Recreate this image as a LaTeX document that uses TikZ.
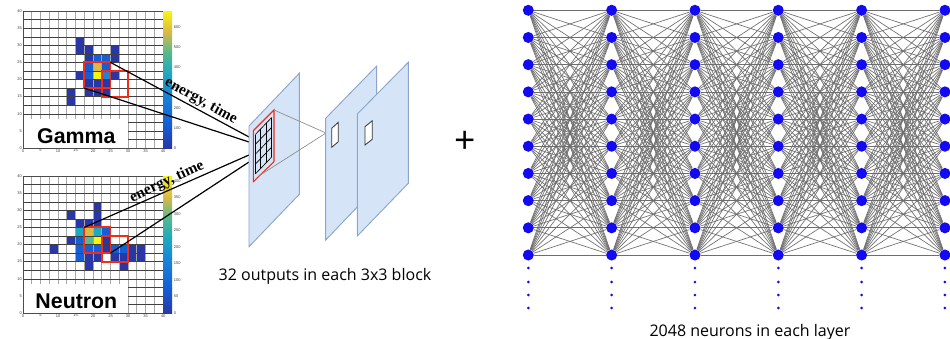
\documentclass[tikz,border=0pt]{standalone}
\usepackage{fontspec}
\setmainfont{Open Sans}
\newfontfamily\plotfont{Liberation Sans}
\newfontfamily\labelfont{Liberation Serif}
\usepackage{tikz}
\usetikzlibrary{calc}
\definecolor{birdD}{RGB}{40,55,165}
\definecolor{birdB}{RGB}{20,95,215}
\definecolor{birdM}{RGB}{25,135,215}
\definecolor{birdT}{RGB}{30,170,190}
\definecolor{birdG}{RGB}{90,185,140}
\definecolor{birdO}{RGB}{220,185,70}
\definecolor{birdY}{RGB}{250,245,15}
\definecolor{boxRed}{RGB}{240,45,25}
\definecolor{sheetBlue}{RGB}{214,228,248}
\definecolor{sheetEdge}{RGB}{140,165,205}
\definecolor{neuronBlue}{RGB}{20,10,240}
\definecolor{linkGray}{RGB}{110,110,110}

\begin{document}
\begin{tikzpicture}[x=0.75pt,y=-0.75pt,
  neuron/.style={circle,fill=neuronBlue,inner sep=0pt,minimum size=8.3pt},
  link/.style={draw=linkGray,line width=0.5pt},
  feed/.style={draw=black,line width=0.9pt},
  sheet/.style={draw=sheetEdge,fill=sheetBlue,line width=0.7pt},
  redbox/.style={draw=boxRed,line width=1.4pt},
  tick/.style={font=\plotfont\fontsize{3}{3}\selectfont,text=black!75,inner sep=0.4pt},
  energy/.style={font=\labelfont\bfseries\fontsize{11.5}{11.5}\selectfont,inner sep=0pt},
  tag/.style={font=\plotfont\bfseries\fontsize{16}{16}\selectfont,inner sep=0pt},
  caption/.style={font=\fontsize{12}{14}\selectfont,inner sep=0pt}]
\useasboundingbox (0,0) rectangle (950,339);

% --- Gamma histogram ---
\begin{scope}[shift={(23,148)},x=6.5625pt,y=6.42pt]
\foreach \i/\j/\c in {6/12/birdD,6/11/birdD,7/11/birdD,10/11/birdD,
    7/10/birdD,8/10/birdB,9/10/birdB,10/10/birdD,7/9/birdB,8/9/birdO,9/9/birdB,
    6/8/birdD,7/8/birdB,8/8/birdY,9/8/birdM,10/8/birdD,7/7/birdD,8/7/birdD,9/7/birdD,
    5/6/birdD,7/6/birdD,8/6/birdD,9/6/birdD,5/5/birdD}
  \fill[fill=\c] (\i,\j) rectangle ++(1,1);
\foreach \k in {0,...,16}
  \draw[black!35,line width=0.6pt] (\k,0) -- (\k,16);
\foreach \k in {0,...,16}
  \draw[black!75,line width=0.3pt] (0,\k) -- (16,\k);
\fill[white] (0,0) rectangle (12,3.39);
\draw[black!70,line width=0.4pt] (0,0) rectangle (16,16);
\shade[bottom color=birdD,top color=birdB] (16,0) rectangle (17.03,2.9);
\shade[bottom color=birdB,top color=birdM] (16,2.9) rectangle (17.03,6.4);
\shade[bottom color=birdM,top color=birdT] (16,6.4) rectangle (17.03,8.8);
\shade[bottom color=birdT,top color=birdG] (16,8.8) rectangle (17.03,11.2);
\shade[bottom color=birdG,top color=birdO] (16,11.2) rectangle (17.03,13.6);
\shade[bottom color=birdO,top color=birdY] (16,13.6) rectangle (17.03,16);
\foreach \v in {0,100,...,600}
  \node[tick,anchor=west] (gc\v) at (17.15,{16*\v/680}) {\v};
\foreach \t [count=\n from 0] in {0,5,...,40}{
  \node[tick,anchor=north] (gx\n) at (2*\n,-0.05) {\t};
  \node[tick,anchor=east] (gy\n) at (-0.05,2*\n) {\t};
}
\draw[redbox] (7,7) rectangle (10,10);
\draw[redbox] (9,6) rectangle (12,9);
\coordinate (gTR) at (10,10);
\coordinate (gBL) at (7,7);
\node[tag] (gammaTag) at (6.1,1.33) {Gamma};
\end{scope}

% --- Neutron histogram ---
\begin{scope}[shift={(23,313)},x=6.5625pt,y=6.42pt]
\foreach \i/\j/\c in {8/12/birdD,5/11/birdD,8/11/birdD,6/10/birdD,7/10/birdD,8/10/birdD,
    6/9/birdT,7/9/birdO,8/9/birdT,9/9/birdB,5/8/birdD,6/8/birdB,7/8/birdG,8/8/birdY,9/8/birdD,
    3/7/birdD,6/7/birdB,7/7/birdB,8/7/birdB,9/7/birdD,10/7/birdB,11/7/birdB,12/7/birdD,13/7/birdD,
    6/6/birdB,7/6/birdD,8/6/birdD,10/6/birdD,11/6/birdD,12/6/birdD,13/6/birdD,7/5/birdD,11/5/birdD}
  \fill[fill=\c] (\i,\j) rectangle ++(1,1);
\foreach \k in {0,...,16}
  \draw[black!35,line width=0.6pt] (\k,0) -- (\k,16);
\foreach \k in {0,...,16}
  \draw[black!75,line width=0.3pt] (0,\k) -- (16,\k);
\fill[white] (0,0) rectangle (12,3.39);
\draw[black!70,line width=0.4pt] (0,0) rectangle (16,16);
\shade[bottom color=birdD,top color=birdB] (16,0) rectangle (17.03,2.9);
\shade[bottom color=birdB,top color=birdM] (16,2.9) rectangle (17.03,6.4);
\shade[bottom color=birdM,top color=birdT] (16,6.4) rectangle (17.03,8.8);
\shade[bottom color=birdT,top color=birdG] (16,8.8) rectangle (17.03,11.2);
\shade[bottom color=birdG,top color=birdO] (16,11.2) rectangle (17.03,13.6);
\shade[bottom color=birdO,top color=birdY] (16,13.6) rectangle (17.03,16);
\foreach \v in {0,50,...,400}
  \node[tick,anchor=west] (nc\v) at (17.15,{16*\v/415}) {\v};
\foreach \t [count=\n from 0] in {0,5,...,40}{
  \node[tick,anchor=north] (nx\n) at (2*\n,-0.05) {\t};
  \node[tick,anchor=east] (ny\n) at (-0.05,2*\n) {\t};
}
\draw[redbox] (7,7) rectangle (10,10);
\draw[redbox] (9,6) rectangle (12,9);
\coordinate (nTL) at (7,10);
\coordinate (nBR) at (10,7);
\node[tag] (neutronTag) at (6.1,1.33) {Neutron};
\end{scope}

% --- inputs to the first map ---
\coordinate (inA) at (249,137);
\coordinate (inB) at (249,142);
\coordinate (inC) at (249,155);
\coordinate (inD) at (249,162);
\draw[feed] (gTR) -- (inA);
\draw[feed] (gBL) -- (inB);
\draw[feed] (nTL) -- (inC);
\draw[feed] (nBR) -- (inD);
\node[energy,rotate=-29] (egGamma) at (201,101) {energy, time};
\node[energy,rotate=25] (egNeutron) at (167,182) {energy, time};

% --- conv maps ---
\draw[sheet] (249,126) -- (299.3,73.3) -- (299.3,194.3) -- (249,246.7) -- cycle;
\coordinate (kTL) at (255.3,134.5);
\coordinate (kTR) at (271.7,117.5);
\coordinate (kBL) at (255.3,174);
\coordinate (kBR) at (271.7,157);
\foreach \k in {0,...,3}
  \draw[black,line width=0.5pt] ($(kTL)!\k/3!(kTR)$) -- ($(kBL)!\k/3!(kBR)$);
\foreach \k in {0,...,4}
  \draw[black,line width=0.5pt] ($(kTL)!\k/4!(kBL)$) -- ($(kTR)!\k/4!(kBR)$);
\draw[draw=boxRed,line width=0.8pt] (253.3,130.7) coordinate (rTL) -- (274,110) coordinate (rTR)
  -- (274,161.7) -- (253.3,181.7) -- cycle;
\coordinate (apex) at (326,133);
\coordinate (rLow) at (259.5,175.5);
\draw[black!45,line width=0.5pt] (rTR) -- (apex) -- (rLow);
\draw[sheet] (325.7,118.3) -- (376.7,66) -- (376.7,186.7) -- (325.7,240) -- cycle;
\draw[fill=white,draw=black!80,line width=0.6pt] (331.7,128.3) -- (338.3,122.3) -- (338.3,141.7) -- (331.7,147.3) -- cycle;
\draw[sheet] (357.3,114) -- (408.3,62.3) -- (408.3,183.3) -- (357.3,236) -- cycle;
\draw[fill=white,draw=black!80,line width=0.6pt] (365,126.7) -- (372.3,120.7) -- (372.3,139.3) -- (365,145) -- cycle;
\node[caption] (convTxt) at (325,276) {32 outputs in each 3x3 block};

\node[font=\fontsize{28}{28}\selectfont,inner sep=0pt] (plus) at (465,142) {+};

% --- dense layers ---
\foreach \c in {1,...,6}
  \foreach \r in {1,...,10}
    \node[neuron] (n\c-\r) at ({528.3+(\c-1)*83.33},{10.3+(\r-1)*27.19}) {};
\foreach \c [evaluate=\c as \d using int(\c+1)] in {1,...,5}
  \foreach \a in {1,...,10}
    \foreach \b in {1,...,10}
      \draw[link] (n\c-\a) -- (n\d-\b);
\foreach \c in {1,...,6}
  \foreach \y in {268,282,295,308}
    \fill[neuronBlue] ({528.3+(\c-1)*83.33},\y) circle (1.1pt);
\node[caption] (denseTxt) at (750,332) {2048 neurons in each layer};
\end{tikzpicture}
\end{document}
